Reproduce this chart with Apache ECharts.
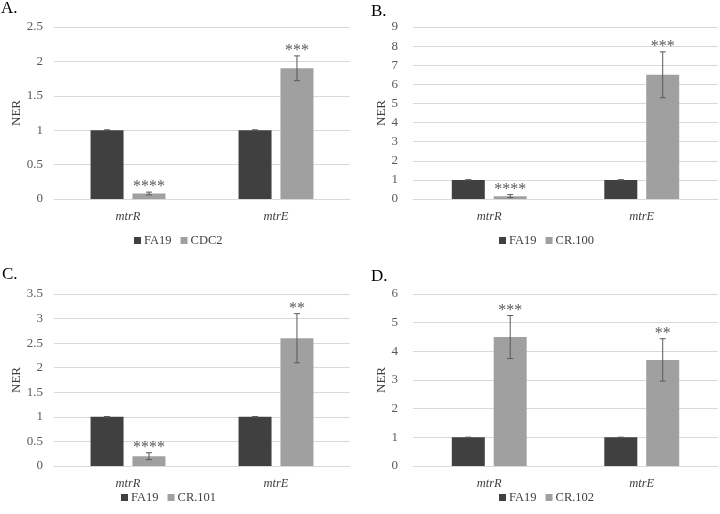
<!DOCTYPE html>
<html><head><meta charset="utf-8">
<script src="https://cdn.jsdelivr.net/npm/echarts@6/dist/echarts.min.js"></script>
<style>html,body{margin:0;padding:0;background:#fff}#c{width:720px;height:514px}</style>
</head><body><div id="c"></div>
<script>
// ---- data ----
const categories = ['mtrR', 'mtrE'];
const fa19 = [1, 1];
const fa19Err = [0.006, 0.006];
const cdc2 = [0.08, 1.9];
const cdc2Err = [0.02, 0.18];
const cdc2Sig = ['****', '***'];
const cr100 = [0.15, 6.5];
const cr100Err = [0.08, 1.2];
const cr100Sig = ['****', '***'];
const cr101 = [0.2, 2.6];
const cr101Err = [0.07, 0.5];
const cr101Sig = ['****', '**'];
const cr102 = [4.5, 3.7];
const cr102Err = [0.75, 0.74];
const cr102Sig = ['***', '**'];
const panelLetters = ['A.', 'B.', 'C.', 'D.'];
const strainNames = ['CDC2', 'CR.100', 'CR.101', 'CR.102'];
const yMax = [2.5, 9, 3.5, 6];
const yStep = [0.5, 1, 0.5, 1];

// ---- styling / layout ----
const FONT = '"Liberation Serif", "Times New Roman", serif';
const DARK = '#404040', LIGHT = '#a0a0a0', TXT = '#595959';
const BAR_W = 33, GAP_FRAC = 0.27;
const panels = [
  {vals: cdc2, errs: cdc2Err, sigs: cdc2Sig, grid: {left: 54, top: 27, width: 296, height: 172}, nameGap: 31, labelMargin: 11, legendLeft: 134, legendTop: 234, title: {left: 1, top: 0}},
  {vals: cr100, errs: cr100Err, sigs: cr100Sig, grid: {left: 413, top: 27, width: 305, height: 172}, nameGap: 22, labelMargin: 15, legendLeft: 499, legendTop: 234, title: {left: 371, top: 3}},
  {vals: cr101, errs: cr101Err, sigs: cr101Sig, grid: {left: 54, top: 294, width: 296, height: 172}, nameGap: 31, labelMargin: 11, legendLeft: 121, legendTop: 491, title: {left: 2, top: 266}},
  {vals: cr102, errs: cr102Err, sigs: cr102Sig, grid: {left: 413, top: 294, width: 305, height: 172}, nameGap: 22, labelMargin: 15, legendLeft: 499, legendTop: 491, title: {left: 371, top: 268}}
];

function errSeries(gi, vals, errs, sigs, side) {
  return {
    type: 'custom', xAxisIndex: gi, yAxisIndex: gi, silent: true, z: 5,
    data: vals.map((v, i) => [i, v, errs[i]]),
    renderItem(params, api) {
      const i = api.value(0), v = api.value(1), e = api.value(2);
      const off = side * (BAR_W + BAR_W * GAP_FRAC) / 2;
      const top = api.coord([i, v + e]);
      const bot = api.coord([i, v - e]);
      const x = top[0] + off;
      const st = {stroke: TXT, lineWidth: 1};
      const children = [
        {type: 'line', shape: {x1: x, y1: top[1], x2: x, y2: bot[1]}, style: st},
        {type: 'line', shape: {x1: x - 3, y1: top[1], x2: x + 3, y2: top[1]}, style: st},
        {type: 'line', shape: {x1: x - 3, y1: bot[1], x2: x + 3, y2: bot[1]}, style: st}
      ];
      if (sigs) {
        children.push({type: 'text', x: x, y: top[1] - 5,
          style: {text: sigs[params.dataIndex], fill: TXT, font: '16px ' + FONT, align: 'center', verticalAlign: 'middle'}});
      }
      return {type: 'group', children};
    }
  };
}

const option = {
  animation: false,
  backgroundColor: '#fff',
  title: panels.map((p, k) => ({text: panelLetters[k], left: p.title.left, top: p.title.top, padding: 0,
    textStyle: {fontFamily: FONT, fontSize: 17, fontWeight: 'normal', color: '#000'}})),
  legend: panels.map((p, k) => ({
    data: ['FA19', strainNames[k]], left: p.legendLeft, top: p.legendTop, padding: 0,
    itemWidth: 7, itemHeight: 7, itemGap: 9, icon: 'rect', selectedMode: false,
    textStyle: {fontFamily: FONT, fontSize: 12.5, color: DARK, padding: [0, 0, 0, -2]}
  })),
  grid: panels.map(p => Object.assign({containLabel: false}, p.grid)),
  xAxis: panels.map((p, k) => ({
    type: 'category', gridIndex: k, data: categories,
    axisTick: {show: false},
    axisLine: {lineStyle: {color: '#d9d9d9', width: 1}},
    axisLabel: {fontFamily: FONT, fontSize: 12.5, fontStyle: 'italic', color: DARK, margin: 11}
  })),
  yAxis: panels.map((p, k) => ({
    type: 'value', gridIndex: k, min: 0, max: yMax[k], interval: yStep[k],
    name: 'NER', nameLocation: 'middle', nameGap: p.nameGap, nameRotate: 90,
    nameTextStyle: {fontFamily: FONT, fontSize: 13, color: DARK},
    axisLine: {show: false}, axisTick: {show: false},
    splitLine: {lineStyle: {color: '#d9d9d9', width: 1}},
    axisLabel: {fontFamily: FONT, fontSize: 13, color: TXT, margin: p.labelMargin}
  })),
  series: []
};

panels.forEach((p, k) => {
  option.series.push({
    name: 'FA19', type: 'bar', xAxisIndex: k, yAxisIndex: k, data: fa19,
    barWidth: BAR_W, barGap: (GAP_FRAC * 100) + '%', itemStyle: {color: DARK}
  });
  option.series.push({
    name: strainNames[k], type: 'bar', xAxisIndex: k, yAxisIndex: k, data: p.vals,
    barWidth: BAR_W, barGap: (GAP_FRAC * 100) + '%', itemStyle: {color: LIGHT}
  });
  option.series.push(errSeries(k, fa19, fa19Err, null, -1));
  option.series.push(errSeries(k, p.vals, p.errs, p.sigs, 1));
});

const chart = echarts.init(document.getElementById('c'), null, {renderer: 'canvas'});
chart.setOption(option);
</script>
</body></html>
